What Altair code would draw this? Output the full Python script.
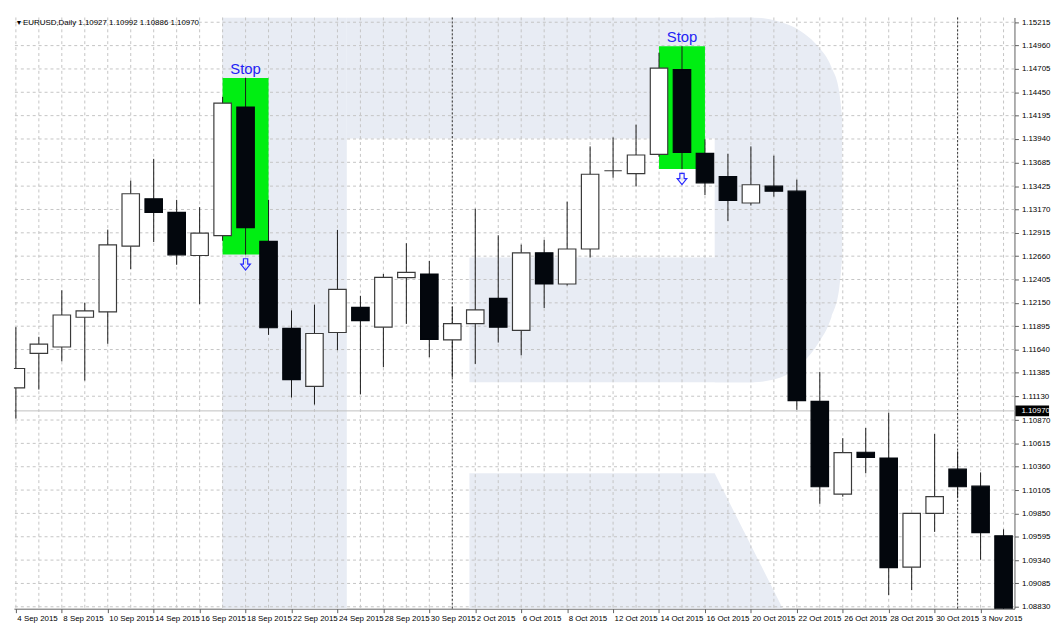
import altair as alt
import pandas as pd

# ---------------- data ----------------
AXIS_LABELS = ["4 Sep 2015", "8 Sep 2015", "10 Sep 2015", "14 Sep 2015", "16 Sep 2015",
               "18 Sep 2015", "22 Sep 2015", "24 Sep 2015", "28 Sep 2015", "30 Sep 2015",
               "2 Oct 2015", "6 Oct 2015", "8 Oct 2015", "12 Oct 2015", "14 Oct 2015",
               "16 Oct 2015", "20 Oct 2015", "22 Oct 2015", "26 Oct 2015", "28 Oct 2015",
               "30 Oct 2015", "3 Nov 2015"]

OPEN = [1.11221, 1.11598, 1.11668, 1.11993, 1.12052, 1.12769, 1.13286, 1.13139, 1.12667, 1.12884,
        1.14289, 1.12822, 1.11871, 1.11238, 1.11826, 1.12101, 1.11884, 1.12426, 1.12465, 1.11745,
        1.11923, 1.12199, 1.11850, 1.12696, 1.12356, 1.12738, 1.13593, 1.13562, 1.13771, 1.14698,
        1.13782, 1.13530, 1.13241, 1.13425, 1.13370, 1.11074, 1.10060, 1.10518, 1.10455, 1.09263,
        1.09850, 1.10333, 1.10148, 1.09606]
HIGH = [1.11884, 1.11779, 1.12287, 1.12150, 1.12950, 1.13485, 1.13723, 1.13275, 1.13195, 1.14400,
        1.14607, 1.13275, 1.12067, 1.12130, 1.12947, 1.12227, 1.12465, 1.12801, 1.12608, 1.12104,
        1.13178, 1.12888, 1.12786, 1.12838, 1.13255, 1.13859, 1.13957, 1.14096, 1.14883, 1.14953,
        1.13936, 1.13779, 1.13859, 1.13758, 1.13496, 1.11396, 1.10672, 1.10783, 1.10951, 1.09850,
        1.10717, 1.10526, 1.10298, 1.09676]
LOW = [1.10885, 1.11203, 1.11511, 1.11301, 1.11703, 1.12518, 1.12814, 1.12566, 1.12136, 1.12828,
       1.12678, 1.11800, 1.11116, 1.11039, 1.11633, 1.11150, 1.11448, 1.11920, 1.11556, 1.11336,
       1.11483, 1.11716, 1.11577, 1.12094, 1.12339, 1.12646, 1.13517, 1.13422, 1.13747, 1.13611,
       1.13328, 1.13045, 1.13213, 1.13310, 1.10983, 1.09955, 1.10033, 1.10288, 1.08959, 1.09012,
       1.09648, 1.10025, 1.09344, 1.08662]
CLOSE = [1.11433, 1.11700, 1.12017, 1.12062, 1.12783, 1.13342, 1.13139, 1.12675, 1.12912, 1.14331,
         1.12971, 1.11878, 1.11312, 1.11815, 1.12297, 1.11955, 1.12429, 1.12482, 1.11752, 1.11923,
         1.12073, 1.11884, 1.12696, 1.12356, 1.12738, 1.13555, 1.13593, 1.13765, 1.14715, 1.13792,
         1.13461, 1.13268, 1.13440, 1.13370, 1.11081, 1.10141, 1.10515, 1.10463, 1.09257, 1.09850,
         1.10033, 1.10141, 1.09641, 1.08715]

Y_TICKS = [1.15215, 1.14960, 1.14705, 1.14450, 1.14195, 1.13940, 1.13685, 1.13425, 1.13170,
           1.12915, 1.12660, 1.12405, 1.12150, 1.11895, 1.11640, 1.11385, 1.11130, 1.10870,
           1.10615, 1.10360, 1.10105, 1.09850, 1.09595, 1.09340, 1.09085, 1.08830]

BID = 1.10970
HEADER = "\u25be EURUSD,Daily  1.10927 1.10992 1.10886 1.10970"
STOP_BARS = [10, 29]          # signal bars marked with green box
SEPARATORS = [19, 41]         # first bar of a new month (1 Oct, 2 Nov)

# watermark (decorative "R" logo) in reference-pixel space of the plot
WM_RECTS = [(214, 0, 342, 616), (342, 0, 760, 126), (468, 250, 760, 380)]
WM_BOWL_X = [720, 760, 785, 808, 826, 840, 848, 851]
WM_BOWL_TOP = [0, 0, 4, 14, 30, 52, 78, 105]
WM_BOWL_BOT = [380, 380, 376, 362, 340, 312, 282, 250]
WM_LEG_X = [468, 720, 790]
WM_LEG_TOP = [475, 475, 616]

# hollow down-arrow symbol
ARROW_PATH = "M-0.38,-1H0.38V-0.05H0.85L0,1L-0.85,-0.05H-0.38Z"

# ---------------- layout ----------------
W, H = 1012, 598
X_DOMAIN = [-0.085, 43.475]
Y_DOMAIN = [1.088093, 1.152674]

xs = alt.Scale(domain=X_DOMAIN, nice=False, zero=False)
ys = alt.Scale(domain=Y_DOMAIN, nice=False, zero=False)

label_arr = "[" + ",".join("'%s'" % s for s in AXIS_LABELS) + "]"
X_AX = alt.Axis(values=list(range(0, 44, 2)), labelExpr=label_arr + "[datum.value/2]",
                grid=False, tickSize=4, labelAlign="left", labelPadding=2, labelOffset=1,
                labelFontSize=8, labelFont="Liberation Sans", labelColor="#000000",
                domainColor="#606060", tickColor="#606060", labelOverlap=False,
                labelFlush=False, title=None)
Y_AX = alt.Axis(values=Y_TICKS, format=".5f", orient="right", grid=False, tickSize=4,
                labelPadding=3, labelFontSize=8, labelFont="Liberation Sans",
                labelColor="#000000", domainColor="#606060", tickColor="#606060",
                labelOverlap=False, labelFlush=False, title=None)

n = len(OPEN)
bars = pd.DataFrame({"i": list(range(n)), "open": OPEN, "high": HIGH, "low": LOW, "close": CLOSE})
bars["up"] = bars["close"] >= bars["open"]
bars["top"] = bars[["open", "close"]].max(axis=1)
bars["bot"] = bars[["open", "close"]].min(axis=1)
bars["xl"] = bars["i"] - 0.38
bars["xr"] = bars["i"] + 0.38

stops = bars[bars["i"].isin(STOP_BARS)].copy()
stops["x1"] = stops["i"] - 1
stops["x2"] = stops["i"] + 1

base = alt.Chart(bars)

# ---- watermark layer (independent pixel-like scales) ----
wx = alt.Scale(domain=[0, 1028], nice=False, zero=False)
wy = alt.Scale(domain=[616, 0], nice=False, zero=False)
WM_COLOR = "#e8ecf4"
wm_rect_df = pd.DataFrame(WM_RECTS, columns=["x1", "y1", "x2", "y2"])
wm_rects = alt.Chart(wm_rect_df).mark_rect(color=WM_COLOR, clip=True).encode(
    x=alt.X("x1:Q", scale=wx, axis=None), x2="x2:Q",
    y=alt.Y("y1:Q", scale=wy, axis=None), y2="y2:Q")
wm_bowl = alt.Chart(pd.DataFrame({"x": WM_BOWL_X, "t": WM_BOWL_TOP, "b": WM_BOWL_BOT})).mark_area(
    color=WM_COLOR, clip=True, interpolate="monotone").encode(
    x=alt.X("x:Q", scale=wx, axis=None), y=alt.Y("t:Q", scale=wy, axis=None), y2="b:Q")
wm_leg = alt.Chart(pd.DataFrame({"x": WM_LEG_X, "t": WM_LEG_TOP, "b": [616] * len(WM_LEG_X)})).mark_area(
    color=WM_COLOR, clip=True).encode(
    x=alt.X("x:Q", scale=wx, axis=None), y=alt.Y("t:Q", scale=wy, axis=None), y2="b:Q")
watermark = alt.layer(wm_rects, wm_bowl, wm_leg)

# ---- main layers ----
hgrid = alt.Chart(pd.DataFrame({"v": Y_TICKS})).mark_rule(
    color="#c4c4c4", strokeDash=[3, 3], strokeWidth=1).encode(
    y=alt.Y("v:Q", scale=ys, axis=Y_AX))
vgrid = base.mark_rule(color="#c4c4c4", strokeDash=[3, 3], strokeWidth=1).encode(
    x=alt.X("i:Q", scale=xs, axis=X_AX))
seps = alt.Chart(pd.DataFrame({"i": SEPARATORS})).mark_rule(
    color="#303030", strokeDash=[2, 2], strokeWidth=1).encode(
    x=alt.X("i:Q", scale=xs, axis=X_AX))
green = alt.Chart(stops).mark_rect(color="#00ee12", clip=True).encode(
    x=alt.X("x1:Q", scale=xs, axis=X_AX), x2="x2:Q",
    y=alt.Y("high:Q", scale=ys, axis=Y_AX), y2="low:Q")
bidline = alt.Chart(pd.DataFrame({"p": [BID]})).mark_rule(color="#c0c0c0", strokeWidth=1).encode(
    y=alt.Y("p:Q", scale=ys, axis=Y_AX))
wicks = base.mark_rule(color="#1a1a1a", strokeWidth=1, clip=True).encode(
    x=alt.X("i:Q", scale=xs, axis=X_AX),
    y=alt.Y("low:Q", scale=ys, axis=Y_AX), y2="high:Q")
bodies = base.mark_rect(strokeWidth=1.2, clip=True).encode(
    x=alt.X("xl:Q", scale=xs, axis=X_AX), x2="xr:Q",
    y=alt.Y("top:Q", scale=ys, axis=Y_AX), y2="bot:Q",
    fill=alt.condition("datum.up", alt.value("#ffffff"), alt.value("#03070d")),
    stroke=alt.condition("datum.up", alt.value("#3a3a3a"), alt.value("#03070d")))
stop_txt = alt.Chart(stops).mark_text(text="Stop", color="#2323f5", fontSize=15,
                                      font="Liberation Sans", baseline="bottom", dy=-1).encode(
    x=alt.X("i:Q", scale=xs, axis=X_AX), y=alt.Y("high:Q", scale=ys, axis=Y_AX))
arrows = alt.Chart(stops).mark_point(shape=ARROW_PATH, size=130, filled=False, color="#2a2aff",
                                     strokeWidth=1.2, opacity=1, yOffset=10).encode(
    x=alt.X("i:Q", scale=xs, axis=X_AX), y=alt.Y("low:Q", scale=ys, axis=Y_AX))

bid_df = pd.DataFrame({"p": [BID], "t": [BID + 0.00058], "b": [BID - 0.00058],
                       "lab": ["%.5f" % BID]})
bid_box = alt.Chart(bid_df).mark_rect(color="#000000").encode(
    x=alt.value(W + 1), x2=alt.value(W + 35),
    y=alt.Y("t:Q", scale=ys, axis=Y_AX), y2="b:Q")
bid_txt = alt.Chart(bid_df).mark_text(color="#ffffff", fontSize=8, font="Liberation Sans",
                                      align="left", baseline="middle").encode(
    x=alt.value(W + 7), y=alt.Y("p:Q", scale=ys, axis=Y_AX), text="lab:N")
header = alt.Chart(pd.DataFrame({"t": [HEADER]})).mark_text(
    fontSize=8, font="Liberation Sans", color="#000000", align="left", baseline="middle").encode(
    x=alt.value(3), y=alt.value(6), text="t:N")

main = alt.layer(hgrid, vgrid, seps, green, bidline, wicks, bodies, stop_txt, arrows,
                 bid_box, bid_txt, header)

chart = alt.layer(watermark, main).resolve_scale(x="independent", y="independent").properties(
    width=W, height=H, background="#ffffff",
).configure_view(stroke=None).configure_axis(domainWidth=1)

chart.save("out.html", embed_options={"renderer": "svg", "actions": False})
